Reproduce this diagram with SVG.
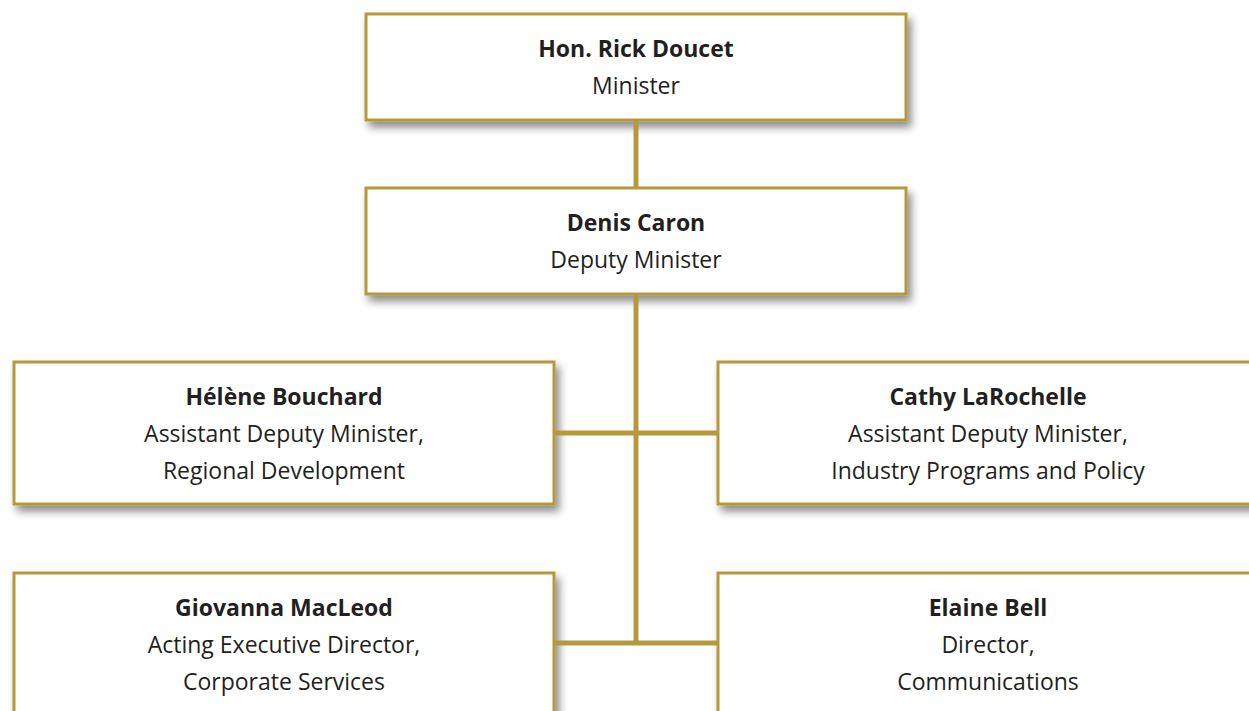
<svg xmlns="http://www.w3.org/2000/svg" width="1249" height="711" viewBox="0 0 1249 711">
  <defs>
    <filter id="shadow" x="-10%" y="-20%" width="130%" height="150%">
      <feDropShadow dx="4" dy="6" stdDeviation="4" flood-color="#000" flood-opacity="0.45"/>
    </filter>
    <style>
      .box { fill: #ffffff; stroke: #b5993b; stroke-width: 3; filter: url(#shadow); }
      .conn { stroke: #b5993b; stroke-width: 5; fill: none; }
      text { font-family: "Open Sans", "Liberation Sans", sans-serif; font-size: 23px; fill: #231f20; text-anchor: middle; }
      .name { font-weight: 700; }
    </style>
  </defs>
  <rect width="1249" height="711" fill="#ffffff"/>

  <g id="node-minister">
    <rect class="box" x="366" y="14" width="540" height="106"/>
    <text class="name" x="636" y="57">Hon. Rick Doucet</text>
    <text x="636" y="94">Minister</text>
  </g>

  <g id="node-deputy">
    <rect class="box" x="366" y="188" width="540" height="106"/>
    <text class="name" x="636" y="231">Denis Caron</text>
    <text x="636" y="268">Deputy Minister</text>
  </g>

  <g id="node-bouchard">
    <rect class="box" x="14" y="362" width="540" height="142"/>
    <text class="name" x="284" y="405">Hélène Bouchard</text>
    <text x="284" y="442">Assistant Deputy Minister,</text>
    <text x="284" y="479">Regional Development</text>
  </g>

  <g id="node-larochelle">
    <rect class="box" x="718" y="362" width="540" height="142"/>
    <text class="name" x="988" y="405">Cathy LaRochelle</text>
    <text x="988" y="442">Assistant Deputy Minister,</text>
    <text x="988" y="479">Industry Programs and Policy</text>
  </g>

  <g id="node-macleod">
    <rect class="box" x="14" y="573" width="540" height="160"/>
    <text class="name" x="284" y="616">Giovanna MacLeod</text>
    <text x="284" y="653">Acting Executive Director,</text>
    <text x="284" y="690">Corporate Services</text>
  </g>

  <g id="node-bell">
    <rect class="box" x="718" y="573" width="540" height="160"/>
    <text class="name" x="988" y="616">Elaine Bell</text>
    <text x="988" y="653">Director,</text>
    <text x="988" y="690">Communications</text>
  </g>

  <g id="connectors">
    <line class="conn" x1="636" y1="121" x2="636" y2="187"/>
    <line class="conn" x1="636" y1="295" x2="636" y2="645"/>
    <line class="conn" x1="555" y1="433" x2="717" y2="433"/>
    <line class="conn" x1="555" y1="643" x2="717" y2="643"/>
  </g>
</svg>
